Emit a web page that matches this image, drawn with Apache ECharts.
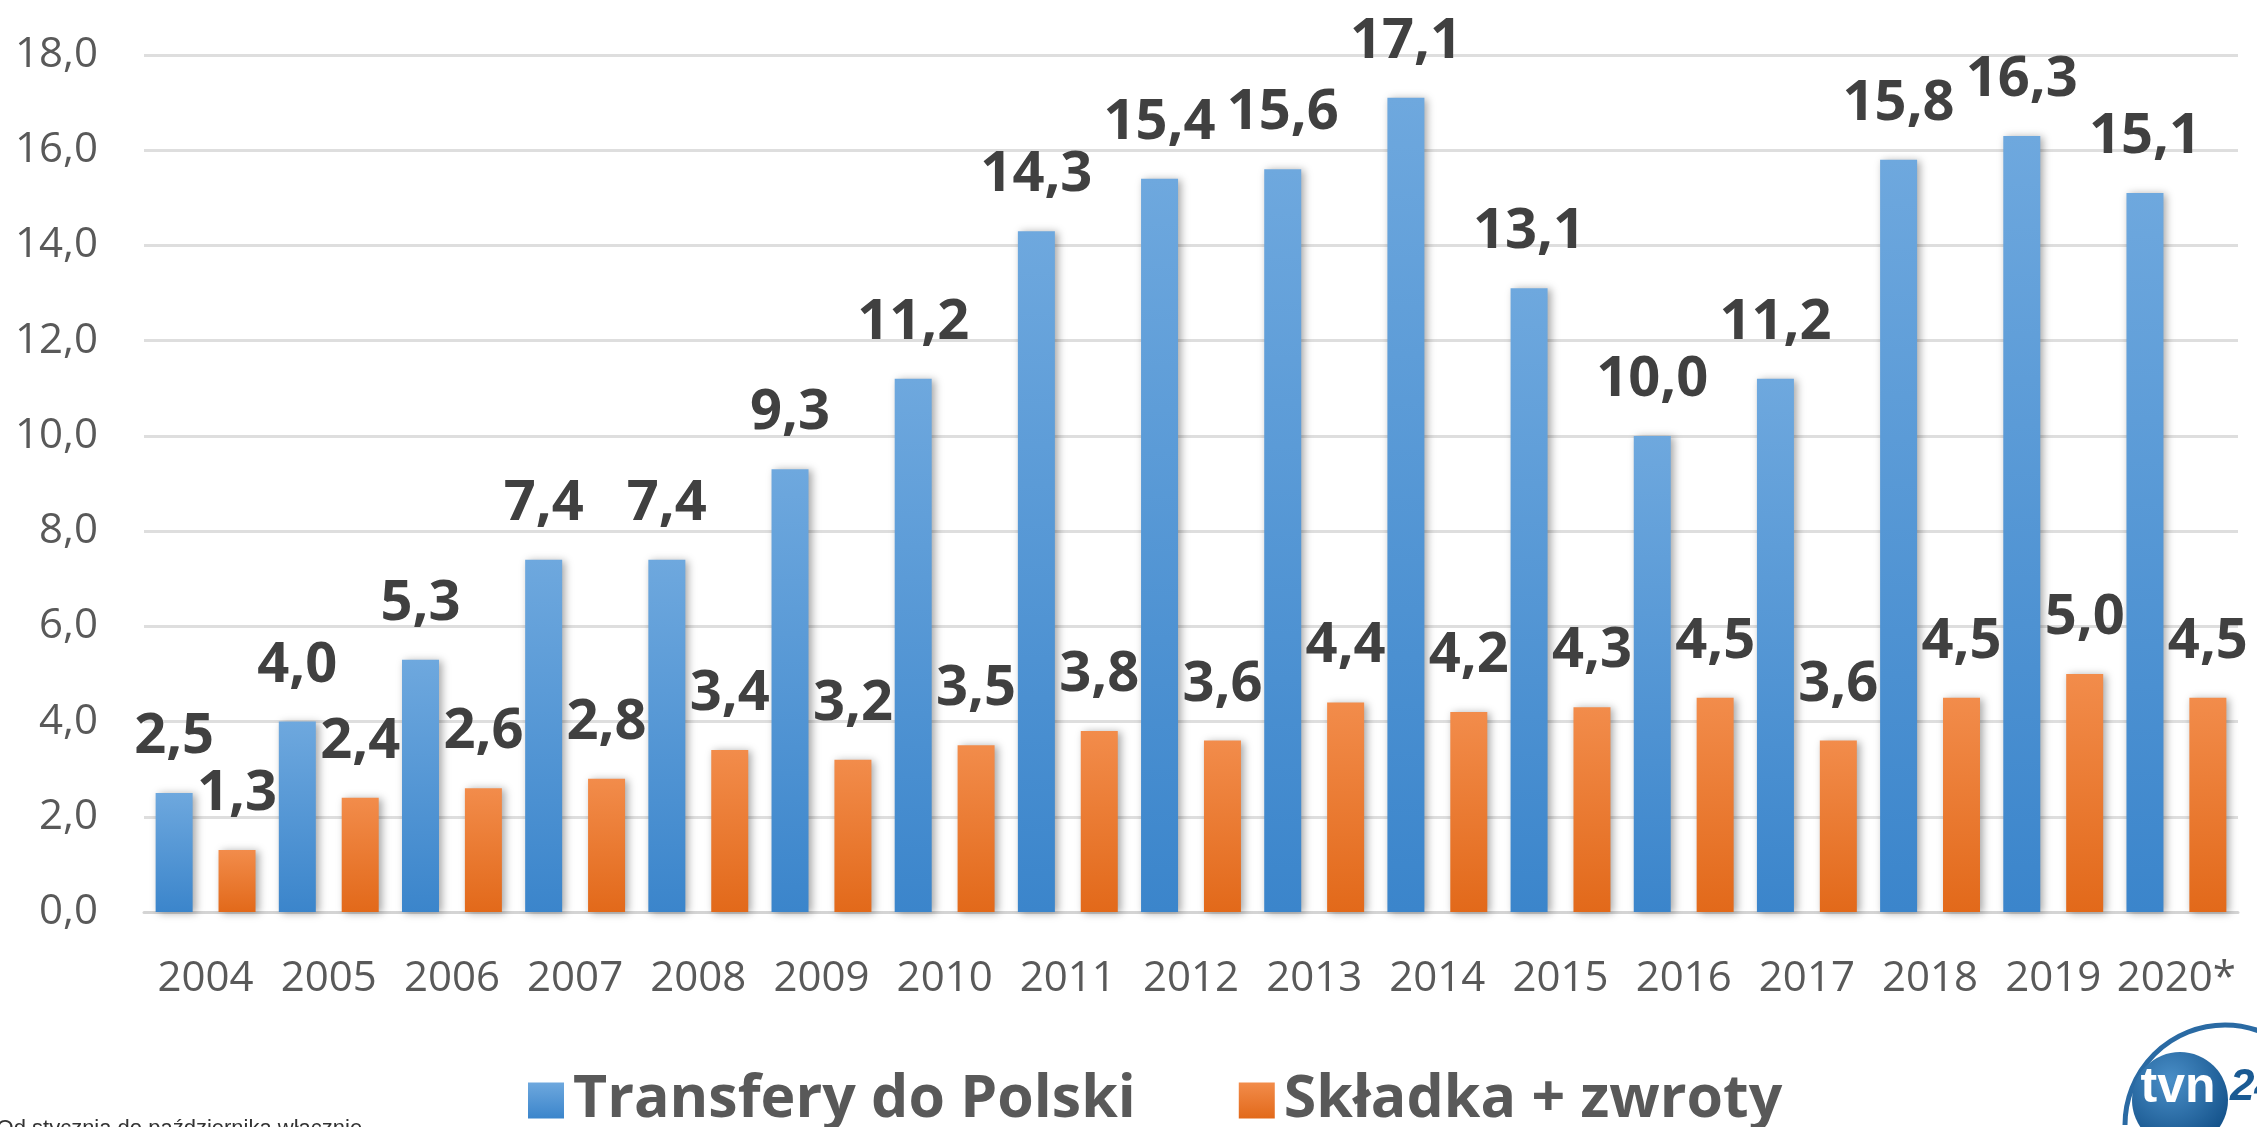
<!DOCTYPE html>
<html>
<head>
<meta charset="utf-8">
<title>Transfery do Polski</title>
<script src="https://cdn.jsdelivr.net/npm/echarts/dist/echarts.min.js"></script>
<style>
  html, body { margin: 0; padding: 0; background: #fff; }
  #chart { width: 2257px; height: 1127px; }
</style>
</head>
<body>
<div id="chart"></div>
<script>
// lata (ostatni rok niepełny)
const years = ['2004', '2005', '2006', '2007', '2008', '2009', '2010', '2011', '2012', '2013', '2014', '2015', '2016', '2017', '2018', '2019', '2020*']
// mld zł
const transfers = [2.5, 4.0, 5.3, 7.4, 7.4, 9.3, 11.2, 14.3, 15.4, 15.6, 17.1, 13.1, 10.0, 11.2, 15.8, 16.3, 15.1]
const contributions = [1.3, 2.4, 2.6, 2.8, 3.4, 3.2, 3.5, 3.8, 3.6, 4.4, 4.2, 4.3, 4.5, 3.6, 4.5, 5.0, 4.5]
const seriesNames = ['Transfery do Polski', 'Składka + zwroty']
const yTicks = [0, 2, 4, 6, 8, 10, 12, 14, 16, 18]

const FONT = '"Open Sans", "DejaVu Sans", sans-serif'

function pl(v) {
  return v.toFixed(1).replace('.', ',')
}

function grad(top, bottom) {
  return new echarts.graphic.LinearGradient(0, 0, 0, 1, [
    { offset: 0, color: top },
    { offset: 1, color: bottom }
  ])
}

function barSeries(name, data, top, bottom) {
  return {
    name: name,
    type: 'bar',
    data: data,
    barWidth: 37,
    barGap: '70%',
    itemStyle: {
      color: grad(top, bottom),
      shadowColor: 'rgba(0,0,0,0.35)',
      shadowBlur: 8,
      shadowOffsetX: 3,
      shadowOffsetY: 1
    },
    label: {
      show: true,
      position: 'top',
      distance: 28,
      formatter: p => pl(p.value),
      fontFamily: FONT,
      fontWeight: 'bold',
      fontSize: 56,
      color: '#404040'
    }
  }
}

function initChart(dom) {
  const chart = echarts.init(dom, null, { width: 2257, height: 1127 })

  const option = {
    backgroundColor: '#ffffff',
    animation: false,
    grid: { left: 144, right: 19, top: 55, bottom: 215 },
    legend: {
      data: seriesNames,
      left: 523,
      top: 1066,
      icon: 'rect',
      itemWidth: 36,
      itemHeight: 36,
      itemGap: 103,
      textStyle: {
        fontFamily: FONT,
        fontWeight: 'bold',
        fontSize: 59,
        color: '#595959',
        padding: [0, 0, 0, 4]
      }
    },
    xAxis: {
      type: 'category',
      data: years,
      axisTick: { show: false },
      axisLine: { lineStyle: { color: '#d4d4d4', width: 3 } },
      axisLabel: {
        interval: 0,
        margin: 46,
        fontFamily: FONT,
        fontSize: 42,
        color: '#595959'
      }
    },
    yAxis: {
      type: 'value',
      min: yTicks[0],
      max: yTicks[yTicks.length - 1],
      interval: 2,
      axisLine: { show: false },
      axisTick: { show: false },
      splitLine: { lineStyle: { color: '#dedede', width: 3 } },
      axisLabel: {
        margin: 46,
        fontFamily: FONT,
        fontSize: 42,
        color: '#595959',
        formatter: v => pl(v)
      }
    },
    series: [
      barSeries(seriesNames[0], transfers, '#6ea8de', '#3b85cb'),
      barSeries(seriesNames[1], contributions, '#f28c4b', '#e2691a')
    ],
    graphic: [
      {
        // przypis, ucięty dolną krawędzią
        type: 'text',
        left: -12,
        top: 1118,
        style: {
          text: '*Od stycznia do października włącznie',
          fontFamily: '"Liberation Sans", sans-serif',
          fontSize: 22,
          fill: '#333333'
        }
      },
      // logo tvn24
      {
        type: 'arc',
        shape: { cx: 2225, cy: 1125, r: 100, startAngle: Math.PI, endAngle: Math.PI * 2, clockwise: true },
        style: { stroke: '#2a6aa3', lineWidth: 5, fill: null }
      },
      {
        type: 'circle',
        shape: { cx: 2180, cy: 1100, r: 48 },
        style: {
          fill: new echarts.graphic.RadialGradient(0.4, 0.3, 0.8, [
            { offset: 0, color: '#4a8fc8' },
            { offset: 1, color: '#0d4a82' }
          ])
        }
      },
      {
        type: 'text',
        x: 2178,
        y: 1088,
        style: {
          text: 'tvn',
          fontFamily: '"Liberation Sans", sans-serif',
          fontWeight: 'bold',
          fontSize: 50,
          fill: '#ffffff',
          align: 'center',
          verticalAlign: 'middle'
        }
      },
      {
        type: 'text',
        x: 2230,
        y: 1088,
        style: {
          text: '24',
          fontFamily: '"Liberation Sans", sans-serif',
          fontWeight: 'bold',
          fontStyle: 'italic',
          fontSize: 44,
          fill: '#1a5a93',
          align: 'left',
          verticalAlign: 'middle'
        }
      }
    ]
  }

  chart.setOption(option)
  return chart
}

initChart(document.getElementById('chart'))
</script>
</body>
</html>
